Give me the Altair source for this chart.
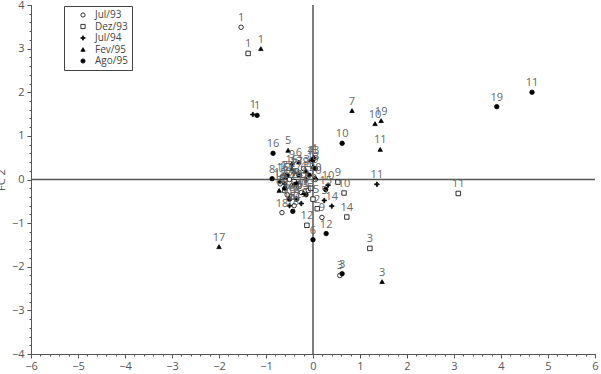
import altair as alt
import pandas as pd
import numpy as np

campaigns = ["Jul/93", "Dez/93", "Jul/94", "Fev/95", "Ago/95"]
PLUS = "M-1,-0.22H-0.22V-1H0.22V-0.22H1V0.22H0.22V1H-0.22V0.22H-1Z"
shapes = ["circle", "square", PLUS, "triangle-up", "circle"]
fills = ["white", "white", "black", "black", "black"]

# Jul/93 (open circles)
jul93_lab = ["1", "3", "9", "18", "4", "5", "6", "2", "15", "12", "7", "13", "10", "14", "20", "16", "17"]
jul93_x = [-1.53, 0.57, 0.19, -0.66, -0.45, -0.30, -0.55, -0.35, -0.10, -0.70, -0.60, -0.20, 0.05, -0.40, -0.25, -0.50, -0.35]
jul93_y = [3.49, -2.20, -0.87, -0.76, -0.15, -0.10, -0.35, -0.45, -0.25, -0.10, 0.10, 0.25, 0.00, -0.60, -0.30, 0.00, 0.20]

# Dez/93 (open squares)
dez93_lab = ["1", "11", "3", "14", "10", "9", "2", "12", "5", "6", "8", "15", "16", "4", "7", "13"]
dez93_x = [-1.38, 3.09, 1.21, 0.72, 0.66, 0.53, 0.09, -0.13, -0.30, -0.60, -0.45, 0.00, -0.65, -0.20, -0.40, -0.05]
dez93_y = [2.89, -0.32, -1.58, -0.86, -0.31, -0.06, -0.67, -1.05, -0.15, -0.25, -0.40, -0.45, 0.05, 0.10, -0.05, -0.20]

# Jul/94 (crosses)
jul94_lab = ["1", "11", "14", "10", "5", "8", "18", "15", "9", "4", "13", "6", "7", "12"]
jul94_x = [-1.28, 1.36, 0.40, 0.32, 0.24, -0.35, -0.50, -0.25, -0.45, 0.02, -0.60, -0.15, -0.40, -0.70]
jul94_y = [1.49, -0.11, -0.61, -0.13, -0.48, -0.45, -0.60, -0.55, 0.35, 0.50, -0.10, 0.00, 0.15, -0.05]

# Fev/95 (filled triangles)
fev95_lab = ["1", "7", "10", "19", "11", "3", "17", "5", "4", "8", "6", "13", "9", "2", "12", "20", "15", "16"]
fev95_x = [-1.11, 0.83, 1.32, 1.45, 1.43, 1.47, -2.00, -0.53, -0.05, -0.72, -0.30, 0.00, -0.15, -0.40, -0.60, 0.05, -0.20, -0.45]
fev95_y = [3.00, 1.58, 1.28, 1.35, 0.69, -2.34, -1.54, 0.67, 0.45, -0.25, 0.40, 0.30, 0.20, -0.10, 0.05, 0.05, -0.30, 0.25]

# Ago/95 (filled circles)
ago95_lab = ["1", "11", "19", "10", "16", "8", "3", "6", "12", "18", "20", "15", "4", "13", "7", "2", "5", "9", "14", "17"]
ago95_x = [-1.19, 4.66, 3.91, 0.62, -0.85, -0.87, 0.62, 0.00, 0.28, -0.43, -0.50, 0.27, -0.08, 0.00, -0.30, -0.60, -0.15, 0.05, -0.35, -0.55]
ago95_y = [1.47, 2.00, 1.67, 0.83, 0.60, 0.02, -2.16, -1.38, -1.24, -0.73, -0.45, -0.23, 0.10, 0.45, 0.10, -0.20, -0.35, 0.25, -0.10, 0.10]

x_ticks = [-6, -5, -4, -3, -2, -1, 0, 1, 2, 3, 4, 5, 6]
y_ticks = [-4, -3, -2, -1, 0, 1, 2, 3, 4]

series = [
    ("Jul/93", jul93_lab, jul93_x, jul93_y),
    ("Dez/93", dez93_lab, dez93_x, dez93_y),
    ("Jul/94", jul94_lab, jul94_x, jul94_y),
    ("Fev/95", fev95_lab, fev95_x, fev95_y),
    ("Ago/95", ago95_lab, ago95_x, ago95_y),
]
rows = []
for name, labs, xs, ys in series:
    for l, x, y in zip(labs, xs, ys):
        rows.append({"campaign": name, "site": l, "x": x, "y": y})
df = pd.DataFrame(rows)

FONT = "Open Sans"
GRAY = "#555555"
minor_x = [round(v, 1) for v in np.arange(-6, 6.001, 0.2)]
minor_y = [round(v, 1) for v in np.arange(-4, 4.001, 0.2)]

xscale = alt.Scale(domain=[-6, 6], nice=False, zero=False)
yscale = alt.Scale(domain=[-4, 4], nice=False, zero=False)

xaxis = alt.Axis(values=x_ticks, title=None, grid=False, tickSize=4, labelPadding=2, orient="bottom",
                 labelColor=GRAY, labelFont=FONT, labelFontSize=11, domainColor=GRAY,
                 tickColor=GRAY, labelFlush=False)
yaxis = alt.Axis(values=y_ticks, title="FC 2", grid=False, tickSize=4, labelPadding=3, orient="left",
                 labelColor=GRAY, labelFont=FONT, labelFontSize=11, domainColor=GRAY,
                 tickColor=GRAY, titleFont=FONT, titleFontSize=11, titleFontWeight="normal",
                 titleColor=GRAY, titleX=-25, labelFlush=False)

base = alt.Chart(df)

legend_kw = dict(title=None)
points = base.mark_point(filled=True, strokeWidth=0.8, size=20, opacity=1).encode(
    x=alt.X("x:Q", scale=xscale, axis=xaxis),
    y=alt.Y("y:Q", scale=yscale, axis=yaxis),
    fill=alt.Fill("campaign:N", scale=alt.Scale(domain=campaigns, range=fills), **legend_kw),
    stroke=alt.Stroke("campaign:N", scale=alt.Scale(domain=campaigns, range=["black"] * 5), **legend_kw),
    shape=alt.Shape("campaign:N", scale=alt.Scale(domain=campaigns, range=shapes), **legend_kw),
)

labels = base.mark_text(dy=-9, fontSize=11, color="#666666", font=FONT).encode(
    x=alt.X("x:Q", scale=xscale),
    y=alt.Y("y:Q", scale=yscale),
    text="site:N",
)

zero = pd.DataFrame({"v": [0]})
vline = alt.Chart(zero).mark_rule(color=GRAY, strokeWidth=1.5).encode(x=alt.X("v:Q", scale=xscale))
hline = alt.Chart(zero).mark_rule(color=GRAY, strokeWidth=1.5).encode(y=alt.Y("v:Q", scale=yscale))

main = alt.layer(vline, hline, points, labels)

minor = alt.Chart(zero).mark_point(opacity=0).encode(
    x=alt.X("v:Q", scale=xscale,
            axis=alt.Axis(values=minor_x, labels=False, title=None, domain=False, grid=False,
                          tickSize=2, tickColor=GRAY, orient="bottom")),
    y=alt.Y("v:Q", scale=yscale,
            axis=alt.Axis(values=minor_y, labels=False, title=None, domain=False, grid=False,
                          tickSize=2, tickColor=GRAY, orient="left")),
)

chart = alt.layer(main, minor).resolve_scale(x="independent", y="independent").properties(
    width=564, height=349,
    autosize=alt.AutoSizeParams(type="none"),
    padding={"left": 31, "top": 5, "right": 6, "bottom": 20},
).configure_view(stroke=None).configure_legend(
    orient="none", legendX=33, legendY=1, strokeColor="#444444", fillColor="white",
    padding=4, labelFont=FONT, labelFontSize=10, labelColor="#444444",
    symbolSize=18, symbolStrokeWidth=0.8,
    rowPadding=1.5, labelOffset=7, symbolOffset=10,
)

chart.save("out.html", embed_options={"renderer": "svg", "actions": False})
